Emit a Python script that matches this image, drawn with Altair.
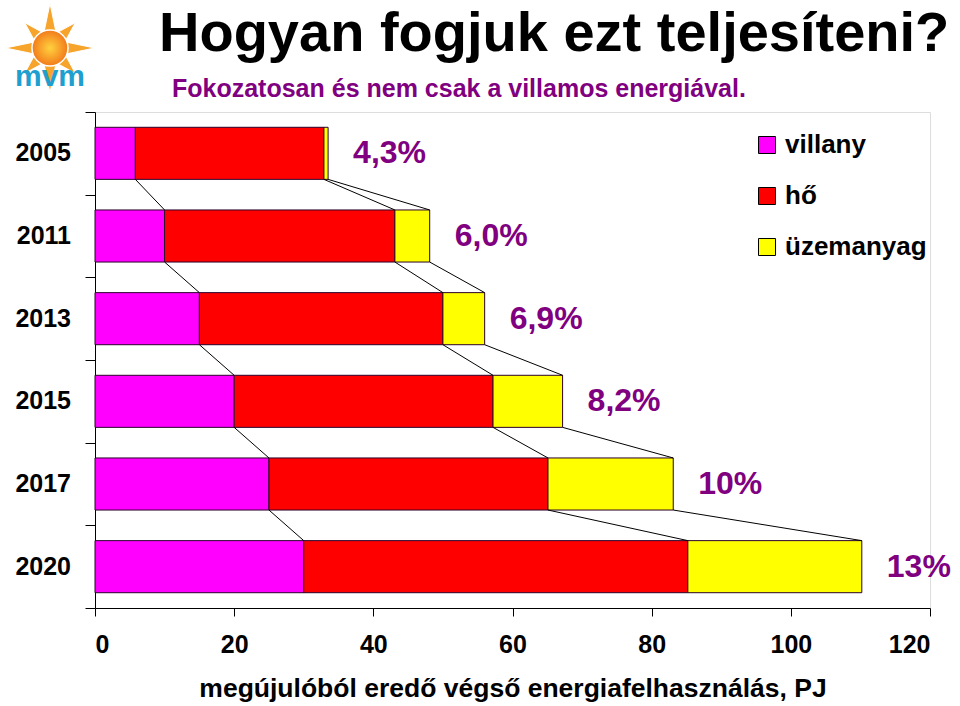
import math
import altair as alt
import pandas as pd

# ---------------- data ----------------
years = ["2005", "2011", "2013", "2015", "2017", "2020"]
villany = [5.8, 10.0, 15.0, 20.0, 25.0, 30.0]
ho = [27.1, 33.1, 35.0, 37.2, 40.1, 55.2]
uzemanyag = [0.6, 5.0, 6.0, 10.0, 18.0, 25.0]
share_labels = ["4,3%", "6,0%", "6,9%", "8,2%", "10%", "13%"]
series_names = ["villany", "hő", "üzemanyag"]
series_colors = ["#FF00FF", "#FF0000", "#FFFF00"]
x_ticks = [0, 20, 40, 60, 80, 100, 120]

title_text = "Hogyan fogjuk ezt teljesíteni?"
subtitle_text = "Fokozatosan és nem csak a villamos energiával."
x_title = "megújulóból eredő végső energiafelhasználás, PJ"

FONT = "Liberation Sans"
BAR_TOP, BAR_BOTTOM = 0.185, 0.815   # bar extent inside each category band

# ---------------- tables ----------------
rows, conn, labels = [], [], []
cums = []
for i, y in enumerate(years):
    vals = [villany[i], ho[i], uzemanyag[i]]
    c = 0.0
    bounds = []
    for s, v in zip(series_names, vals):
        rows.append({"year": y, "series": s, "start": c, "end": c + v,
                     "y0": i + BAR_TOP, "y1": i + BAR_BOTTOM})
        c += v
        bounds.append(c)
    cums.append(bounds)
    labels.append({"year": y, "total": c, "ymid": i + 0.5, "lab": share_labels[i]})
for i in range(len(years) - 1):
    for k in range(3):
        conn.append({"xa": cums[i][k], "ya": i + BAR_BOTTOM,
                     "xb": cums[i + 1][k], "yb": i + 1 + BAR_TOP})

bars_df = pd.DataFrame(rows)
conn_df = pd.DataFrame(conn)
lab_df = pd.DataFrame(labels)

xscale = alt.Scale(domain=[0, 120], nice=False, zero=True)
yscale = alt.Scale(domain=[0, 6], reverse=True, nice=False)
xaxis = alt.Axis(values=x_ticks, tickSize=8, labelFontSize=25, labelFontWeight="bold",
                 labelPadding=16, labelColor="black", title=x_title, titleFontSize=26.5,
                 titleFontWeight="bold", titleColor="black", titlePadding=18,
                 grid=False, domainColor="black", tickColor="black", labelFont=FONT,
                 titleFont=FONT)
yaxis = alt.Axis(values=[0, 1, 2, 3, 4, 5, 6], tickSize=10, labels=False, title=None,
                 grid=False, domainColor="black", tickColor="black")


def X(f):
    return alt.X(f, type="quantitative", scale=xscale, axis=xaxis)


def Y(f):
    return alt.Y(f, type="quantitative", scale=yscale, axis=yaxis)


bars = alt.Chart(bars_df).mark_bar(stroke="#2a002a", strokeWidth=1).encode(
    x=X("start"), x2="end", y=Y("y0"), y2="y1",
    color=alt.Color("series:N",
                    scale=alt.Scale(domain=series_names, range=series_colors),
                    legend=alt.Legend(orient="none", legendX=659, legendY=20, title=None,
                                      symbolType="square", symbolSize=289,
                                      symbolStrokeColor="black", symbolStrokeWidth=1,
                                      symbolOpacity=1, labelFontSize=26,
                                      labelFontWeight="bold", labelFont=FONT,
                                      labelColor="black", rowPadding=25, labelOffset=5,
                                      padding=0)),
    order=alt.Order("start:Q"),
)

connectors = alt.Chart(conn_df).mark_rule(color="black", strokeWidth=1).encode(
    x=X("xa"), x2="xb", y=Y("ya"), y2="yb")

pct = alt.Chart(lab_df).mark_text(align="left", baseline="middle", dx=25, fontSize=32,
                                   fontWeight="bold", color="#800080", font=FONT).encode(
    x=X("total"), y=Y("ymid"), text="lab:N")

year_labels = alt.Chart(lab_df).mark_text(align="right", baseline="middle", fontSize=25,
                                          fontWeight="bold", color="black", font=FONT).encode(
    x=alt.value(-24), y=Y("ymid"), text="year:N")

title = alt.Chart(pd.DataFrame({"t": [title_text]})).mark_text(
    align="left", baseline="alphabetic", fontSize=56, fontWeight="bold", color="black",
    font=FONT).encode(x=alt.value(64), y=alt.value(-61), text="t:N")

subtitle = alt.Chart(pd.DataFrame({"t": [subtitle_text]})).mark_text(
    align="left", baseline="alphabetic", fontSize=25, fontWeight="bold", color="#800080",
    font=FONT).encode(x=alt.value(77), y=alt.value(-15), text="t:N")

# ---------------- logo ----------------
pts = []
for j in range(16):
    ang = -math.pi / 2 + j * math.pi / 8
    r = 1.0 if j % 2 == 0 else 0.36
    if j % 4 == 2:
        r = 0.8
    pts.append(f"{r * math.cos(ang):.3f},{r * math.sin(ang):.3f}")
star_path = "M" + " L".join(pts) + " Z"

logo_df = pd.DataFrame({"k": [0]})
star = alt.Chart(logo_df).mark_point(shape=star_path, filled=True, fill="#F7A42C",
                                     stroke="white", strokeWidth=1, size=8000,
                                     opacity=1).encode(
    x=alt.value(-45), y=alt.value(-64))
sun = alt.Chart(logo_df).mark_point(
    shape="circle", filled=True, opacity=1, size=1300,
    fill=alt.RadialGradient(gradient="radial",
                            stops=[alt.GradientStop(offset=0, color="#FFD23F"),
                                   alt.GradientStop(offset=1, color="#F27A1A")]),
    stroke="white", strokeWidth=1.5).encode(x=alt.value(-45), y=alt.value(-64))
mvm = alt.Chart(pd.DataFrame({"t": ["mvm"]})).mark_text(
    align="center", baseline="alphabetic", fontSize=30, fontWeight="bold",
    color="#1E9FD0", font=FONT).encode(x=alt.value(-45), y=alt.value(-26), text="t:N")

chart = alt.layer(bars, connectors, pct, year_labels, title, subtitle, star, sun, mvm).properties(
    width=835, height=496,
    autosize=alt.AutoSizeParams(type="none"),
    padding={"left": 95, "top": 112, "right": 30, "bottom": 98},
).configure_view(stroke=None).configure(font=FONT)

chart.save("out.html", embed_options={"renderer": "svg", "actions": False})
